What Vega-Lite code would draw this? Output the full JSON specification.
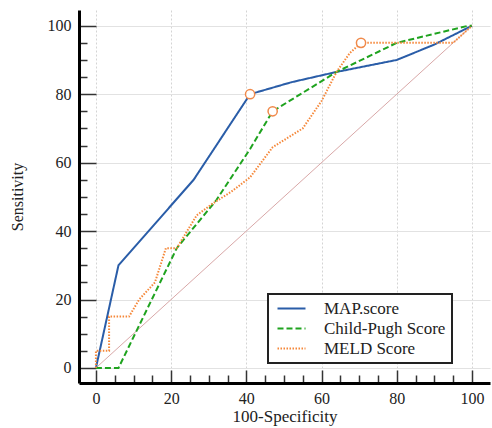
{
  "$schema": "https://vega.github.io/schema/vega-lite/v6.json",
  "width": 411,
  "height": 373,
  "autosize": "none",
  "padding": {"left": 79, "top": 10, "right": 2, "bottom": 45},
  "background": "white",
  "config": {
    "view": {"stroke": null},
    "font": "Liberation Serif, DejaVu Serif, serif",
    "legend": {
      "strokeColor": "#222",
      "strokeWidth": 2,
      "fillColor": "white",
      "padding": 6,
      "labelFont": "Liberation Serif, DejaVu Serif, serif",
      "labelFontSize": 17,
      "labelColor": "#222",
      "labelOffset": 24,
      "symbolOffset": 9,
      "symbolType": "M-2,0H2",
      "symbolSize": 196,
      "symbolStrokeWidth": 2,
      "rowPadding": 2
    }
  },
  "datasets": {
    "diag": [{"x": 0, "y": 0}, {"x": 100, "y": 100}],
    "curves": [
      {"series": "MAP.score", "i": 1, "x": 0, "y": 0},
      {"series": "MAP.score", "i": 2, "x": 6, "y": 30},
      {"series": "MAP.score", "i": 3, "x": 26, "y": 55},
      {"series": "MAP.score", "i": 4, "x": 41, "y": 80},
      {"series": "MAP.score", "i": 5, "x": 52, "y": 83.5},
      {"series": "MAP.score", "i": 6, "x": 64, "y": 86.5},
      {"series": "MAP.score", "i": 7, "x": 80, "y": 90},
      {"series": "MAP.score", "i": 8, "x": 90, "y": 94.5},
      {"series": "MAP.score", "i": 9, "x": 100, "y": 100},
      {"series": "Child-Pugh Score", "i": 1, "x": 0, "y": 0},
      {"series": "Child-Pugh Score", "i": 2, "x": 6, "y": 0},
      {"series": "Child-Pugh Score", "i": 3, "x": 21.5, "y": 35},
      {"series": "Child-Pugh Score", "i": 4, "x": 32, "y": 49},
      {"series": "Child-Pugh Score", "i": 5, "x": 41, "y": 64},
      {"series": "Child-Pugh Score", "i": 6, "x": 47, "y": 75},
      {"series": "Child-Pugh Score", "i": 7, "x": 64, "y": 86.5},
      {"series": "Child-Pugh Score", "i": 8, "x": 80, "y": 95},
      {"series": "Child-Pugh Score", "i": 9, "x": 99, "y": 100},
      {"series": "Child-Pugh Score", "i": 10, "x": 100, "y": 100},
      {"series": "MELD Score", "i": 1, "x": 0, "y": 0},
      {"series": "MELD Score", "i": 2, "x": 0, "y": 5},
      {"series": "MELD Score", "i": 3, "x": 3.5, "y": 5},
      {"series": "MELD Score", "i": 4, "x": 3.5, "y": 15},
      {"series": "MELD Score", "i": 5, "x": 8.8, "y": 15},
      {"series": "MELD Score", "i": 6, "x": 11.5, "y": 20},
      {"series": "MELD Score", "i": 7, "x": 15.7, "y": 25},
      {"series": "MELD Score", "i": 8, "x": 18.6, "y": 35},
      {"series": "MELD Score", "i": 9, "x": 21.5, "y": 35},
      {"series": "MELD Score", "i": 10, "x": 26.8, "y": 44.6},
      {"series": "MELD Score", "i": 11, "x": 31, "y": 48},
      {"series": "MELD Score", "i": 12, "x": 36, "y": 51.5},
      {"series": "MELD Score", "i": 13, "x": 41, "y": 55.7},
      {"series": "MELD Score", "i": 14, "x": 47, "y": 64.5},
      {"series": "MELD Score", "i": 15, "x": 55, "y": 70},
      {"series": "MELD Score", "i": 16, "x": 60, "y": 78},
      {"series": "MELD Score", "i": 17, "x": 64, "y": 86.5},
      {"series": "MELD Score", "i": 18, "x": 67.5, "y": 92},
      {"series": "MELD Score", "i": 19, "x": 70.5, "y": 95},
      {"series": "MELD Score", "i": 20, "x": 95, "y": 95},
      {"series": "MELD Score", "i": 21, "x": 100, "y": 100}
    ],
    "markers": [
      {"series": "MAP.score", "x": 41, "y": 80},
      {"series": "Child-Pugh Score", "x": 47, "y": 75},
      {"series": "MELD Score", "x": 70.5, "y": 95}
    ]
  },
  "encoding": {
    "x": {
      "field": "x",
      "type": "quantitative",
      "scale": {"domain": [-4.5, 104.8], "nice": false, "zero": false},
      "axis": {
        "title": "100-Specificity",
        "titleFont": "Liberation Serif, DejaVu Serif, serif",
        "titleFontSize": 17,
        "titleFontWeight": "normal",
        "titleColor": "#222",
        "titleBaseline": "alphabetic",
        "titleY": 38,
        "values": [0, 5, 10, 15, 20, 25, 30, 35, 40, 45, 50, 55, 60, 65, 70, 75, 80, 85, 90, 95, 100],
        "labelExpr": "datum.value % 20 === 0 ? datum.label : ''",
        "labelFont": "Liberation Serif, DejaVu Serif, serif",
        "labelFontSize": 16,
        "labelColor": "#222",
        "labelPadding": 20,
        "labelFlush": false,
        "labelOverlap": false,
        "domainColor": "black",
        "domainWidth": 3,
        "tickColor": "#333",
        "tickWidth": 1.5,
        "tickSize": {"condition": {"test": "datum.value % 20 === 0", "value": -13}, "value": -8},
        "grid": true,
        "gridColor": "#d4d4d4",
        "gridDash": [2, 2],
        "gridWidth": 1,
        "gridOpacity": {"condition": {"test": "datum.value % 20 === 0", "value": 1}, "value": 0}
      }
    },
    "y": {
      "field": "y",
      "type": "quantitative",
      "scale": {"domain": [-4.4, 104.6], "nice": false, "zero": false},
      "axis": {
        "title": "Sensitivity",
        "titleFont": "Liberation Serif, DejaVu Serif, serif",
        "titleFontSize": 16,
        "titleFontWeight": "normal",
        "titleColor": "#222",
        "titleBaseline": "middle",
        "titleX": -62,
        "values": [0, 5, 10, 15, 20, 25, 30, 35, 40, 45, 50, 55, 60, 65, 70, 75, 80, 85, 90, 95, 100],
        "labelExpr": "datum.value % 20 === 0 ? datum.label : ''",
        "labelFont": "Liberation Serif, DejaVu Serif, serif",
        "labelFontSize": 16,
        "labelColor": "#222",
        "labelPadding": 25,
        "labelFlush": false,
        "labelOverlap": false,
        "domainColor": "black",
        "domainWidth": 3,
        "tickColor": "#333",
        "tickWidth": 1.5,
        "tickSize": {"condition": {"test": "datum.value % 20 === 0", "value": -17}, "value": -8},
        "grid": true,
        "gridColor": "#e2e2e2",
        "gridWidth": 1,
        "gridOpacity": {"condition": {"test": "datum.value % 20 === 0", "value": 1}, "value": 0}
      }
    }
  },
  "layer": [
    {
      "data": {"name": "diag"},
      "mark": {"type": "line", "color": "#d9a8a8", "strokeWidth": 1},
      "encoding": {}
    },
    {
      "data": {"name": "curves"},
      "mark": {"type": "line", "strokeWidth": 2},
      "encoding": {
        "order": {"field": "i", "type": "quantitative"},
        "color": {
          "field": "series",
          "type": "nominal",
          "scale": {"domain": ["MAP.score", "Child-Pugh Score", "MELD Score"], "range": ["#2a5da8", "#1fa31f", "#f5883a"]},
          "legend": {"title": null, "orient": "none", "legendX": 189, "legendY": 284}
        },
        "strokeDash": {
          "field": "series",
          "type": "nominal",
          "scale": {"domain": ["MAP.score", "Child-Pugh Score", "MELD Score"], "range": [[1, 0], [6, 3], [1.5, 1.5]]},
          "legend": {"title": null, "orient": "none", "legendX": 189, "legendY": 284}
        }
      }
    },
    {
      "data": {"name": "markers"},
      "mark": {"type": "point", "shape": "circle", "filled": true, "fill": "white", "stroke": "#f08a4b", "strokeWidth": 1.5, "size": 85, "opacity": 1},
      "encoding": {}
    }
  ]
}
